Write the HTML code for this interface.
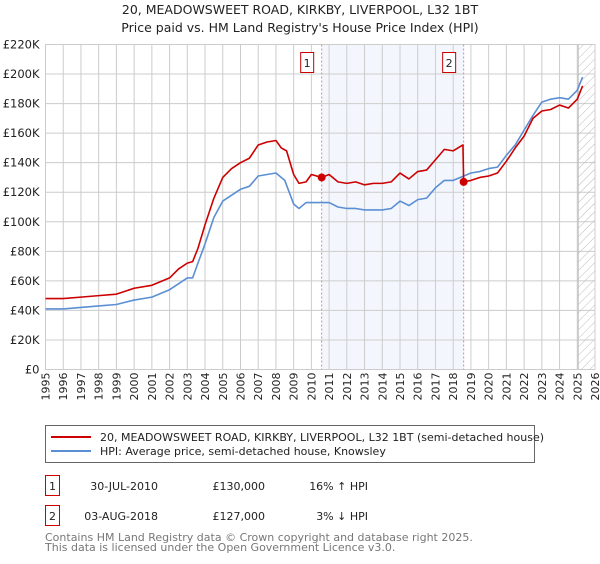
<!DOCTYPE html>
<html><head><meta charset="utf-8"><style>
body{margin:0;background:#fff;font-family:"DejaVu Sans","Liberation Sans",sans-serif;}
svg text{font-family:"DejaVu Sans","Liberation Sans",sans-serif;}
</style></head><body>
<svg id="chart" width="600" height="560" xmlns="http://www.w3.org/2000/svg">
<defs><pattern id="hatch" width="6" height="6" patternUnits="userSpaceOnUse" patternTransform="rotate(45)"><line x1="0" y1="0" x2="0" y2="6" stroke="#bbb" stroke-width="1"/></pattern></defs>
<text x="300" y="14" text-anchor="middle" font-size="12.5" fill="#222">20, MEADOWSWEET ROAD, KIRKBY, LIVERPOOL, L32 1BT</text>
<text x="300" y="32" text-anchor="middle" font-size="12.5" fill="#222">Price paid vs. HM Land Registry's House Price Index (HPI)</text>
<g id="plot"></g>
<rect x="45.5" y="425.5" width="489" height="37" fill="#fff" stroke="#666"/>
<line x1="51" y1="437" x2="91" y2="437" stroke="#cc0000" stroke-width="2"/>
<text x="100" y="441" font-size="11" fill="#222">20, MEADOWSWEET ROAD, KIRKBY, LIVERPOOL, L32 1BT (semi-detached house)</text>
<line x1="51" y1="451" x2="91" y2="451" stroke="#5b8fd4" stroke-width="2"/>
<text x="100" y="455" font-size="11" fill="#222">HPI: Average price, semi-detached house, Knowsley</text>
<rect x="45.5" y="475.5" width="14" height="20" fill="#fff" stroke="#cc0000"/>
<text x="52.5" y="490" text-anchor="middle" font-size="11" fill="#222">1</text>
<text x="158" y="490" text-anchor="end" font-size="11" fill="#222">30-JUL-2010</text>
<text x="265" y="490" text-anchor="end" font-size="11" fill="#222">£130,000</text>
<text x="368" y="490" text-anchor="end" font-size="11" fill="#222">16% ↑ HPI</text>
<rect x="45.5" y="505.5" width="14" height="20" fill="#fff" stroke="#cc0000"/>
<text x="52.5" y="520" text-anchor="middle" font-size="11" fill="#222">2</text>
<text x="158" y="520" text-anchor="end" font-size="11" fill="#222">03-AUG-2018</text>
<text x="265" y="520" text-anchor="end" font-size="11" fill="#222">£127,000</text>
<text x="368" y="520" text-anchor="end" font-size="11" fill="#222">3% ↓ HPI</text>
<text x="45" y="541" font-size="11" fill="#777">Contains HM Land Registry data © Crown copyright and database right 2025.</text>
<text x="45" y="551" font-size="11" fill="#777">This data is licensed under the Open Government Licence v3.0.</text>
</svg>
<script>
const years=[1995,1996,1997,1998,1999,2000,2001,2002,2003,2004,2005,2006,2007,2008,2009,2010,2011,2012,2013,2014,2015,2016,2017,2018,2019,2020,2021,2022,2023,2024,2025,2026];
const yTicks=[0,20,40,60,80,100,120,140,160,180,200,220];
const redX=[1995,1996,1997,1998,1999,2000,2001,2002,2002.5,2003,2003.3,2003.6,2004,2004.5,2005,2005.5,2006,2006.5,2007,2007.5,2008,2008.3,2008.6,2009,2009.3,2009.7,2010,2010.58,2011,2011.5,2012,2012.5,2013,2013.5,2014,2014.5,2015,2015.5,2016,2016.5,2017,2017.5,2018,2018.55,2018.59,2019,2019.5,2020,2020.5,2021,2021.5,2022,2022.5,2023,2023.5,2024,2024.5,2025,2025.3];
const redY=[48,48,49,50,51,55,57,62,68,72,73,82,98,116,130,136,140,143,152,154,155,150,148,132,126,127,132,130,132,127,126,127,125,126,126,127,133,129,134,135,142,149,148,152,127,128,130,131,133,141,150,158,170,175,176,179,177,183,192];
const blueX=[1995,1996,1997,1998,1999,2000,2001,2002,2003,2003.3,2003.6,2004,2004.5,2005,2005.5,2006,2006.5,2007,2007.5,2008,2008.5,2009,2009.3,2009.7,2010,2011,2011.5,2012,2012.5,2013,2013.5,2014,2014.5,2015,2015.5,2016,2016.5,2017,2017.5,2018,2018.6,2019,2019.5,2020,2020.5,2021,2021.5,2022,2022.5,2023,2023.5,2024,2024.5,2025,2025.3];
const blueY=[41,41,42,43,44,47,49,54,62,62,72,85,103,114,118,122,124,131,132,133,128,112,109,113,113,113,110,109,109,108,108,108,109,114,111,115,116,123,128,128,131,133,134,136,137,145,152,162,172,181,183,184,183,189,198];
const salesX=[2010.58,2018.59];
const salesY=[130,127];
const saleLabels=["1","2"];
const L=45.5,R=595,T=44.5,B=369.5;
const xs=v=>L+(v-1995)/(2026-1995)*(R-L);
const ys=v=>B-v/220*(B-T);
const g=document.getElementById('plot');
const NS='http://www.w3.org/2000/svg';
function mk(tag,attrs){const e=document.createElementNS(NS,tag);for(const k in attrs)e.setAttribute(k,attrs[k]);g.appendChild(e);return e;}
let r=mk('rect',{x:xs(salesX[0]),y:T,width:xs(salesX[1])-xs(salesX[0]),height:B-T,fill:'#eef3fc',opacity:0.7});


years.forEach(y=>{const l=mk('line',{x1:xs(y),x2:xs(y),y1:T,y2:B,stroke:'#ccc'});


const t=mk('text',{x:0,y:0,'font-size':11,fill:'#222','text-anchor':'end',transform:`translate(${xs(y)+4},${B+3}) rotate(-90)`});t.textContent=y;

});
yTicks.forEach(v=>{const l=mk('line',{x1:L,x2:R,y1:ys(v),y2:ys(v),stroke:'#ccc'});


const t=mk('text',{x:L-6,y:ys(v)+4,'font-size':11.5,fill:'#222','text-anchor':'end'});t.textContent=v===0?'£0':'£'+v+'K';

});
const h=mk('rect',{x:xs(2025.05),y:T,width:R-xs(2025.05),height:B-T,fill:'url(#hatch)',stroke:'#bbb'});


const fr=mk('rect',{x:L,y:T,width:R-L,height:B-T,fill:'none',stroke:'#ccc'});


salesX.forEach((sx,i)=>{const l=mk('line',{x1:xs(sx),x2:xs(sx),y1:T,y2:B,stroke:'#f08080','stroke-dasharray':'2,2'});


const b=mk('rect',{x:xs(sx)-21,y:52.5,width:13,height:20,fill:'#fff',stroke:'#cc0000'});


const t=mk('text',{x:xs(sx)-14.5,y:67,'font-size':11,fill:'#222','text-anchor':'middle'});t.textContent=saleLabels[i];

});
function line(X,Y,c,n){const p=mk('polyline',{points:X.map((x,i)=>xs(x)+','+ys(Y[i])).join(' '),fill:'none',stroke:c,'stroke-width':1.6,'stroke-linejoin':'round'});

}
line(blueX,blueY,'#5b8fd4','hpi-line');
line(redX,redY,'#cc0000','property-price-line');
salesX.forEach((sx,i)=>{const c=mk('circle',{cx:xs(sx),cy:ys(salesY[i]),r:4,fill:'#cc0000'});

});
</script>
</body></html>
